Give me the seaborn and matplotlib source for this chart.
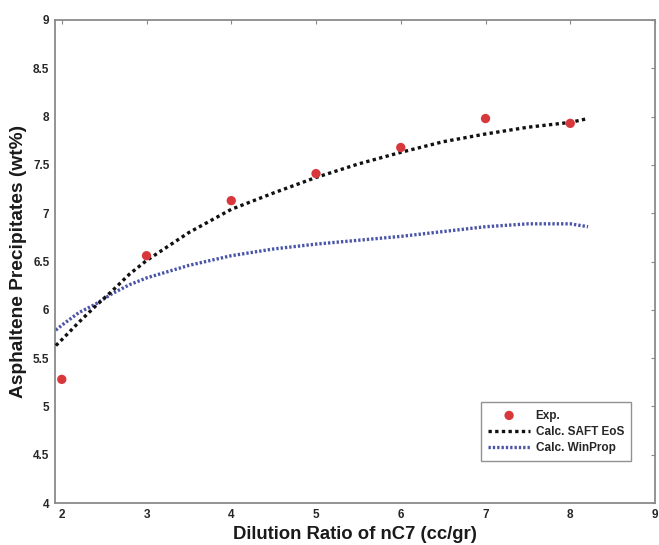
import matplotlib
matplotlib.use("Agg")
import matplotlib.pyplot as plt
import seaborn as sns
import pandas as pd

# Experimental data
exp_x = [2, 3, 4, 5, 6, 7, 8]
exp_y = [5.28, 6.56, 7.13, 7.41, 7.68, 7.98, 7.93]

# SAFT EoS curve
saft_x = [1.93, 2.0, 2.2, 2.4, 2.6, 2.8, 3.0, 3.5, 4.0, 4.5, 5.0, 5.5, 6.0, 6.5, 7.0, 7.5, 8.0, 8.21]
saft_y = [5.63, 5.69, 5.87, 6.04, 6.20, 6.37, 6.51, 6.80, 7.04, 7.21, 7.37, 7.51, 7.63, 7.74, 7.82, 7.89, 7.94, 7.98]

# WinProp curve
win_x = [1.93, 2.0, 2.2, 2.4, 2.6, 2.8, 3.0, 3.5, 4.0, 4.5, 5.0, 5.5, 6.0, 6.5, 7.0, 7.5, 8.0, 8.21]
win_y = [5.79, 5.84, 5.97, 6.06, 6.17, 6.26, 6.33, 6.46, 6.56, 6.63, 6.68, 6.72, 6.76, 6.81, 6.86, 6.89, 6.89, 6.86]

x_ticks = [2, 3, 4, 5, 6, 7, 8, 9]
y_ticks = [4, 4.5, 5, 5.5, 6, 6.5, 7, 7.5, 8, 8.5, 9]
y_tick_labels = ["4", "4.5", "5", "5.5", "6", "6.5", "7", "7.5", "8", "8.5", "9"]

sns.set_style("white")
plt.rcParams['font.family'] = ['Liberation Sans', 'DejaVu Sans']

fig = plt.figure(figsize=(6.59, 5.45), dpi=100)
ax = fig.add_axes([55/659, 1 - 503/545, 600/659, 483/545])

saft_df = pd.DataFrame({"x": saft_x, "y": saft_y})
win_df = pd.DataFrame({"x": win_x, "y": win_y})
exp_df = pd.DataFrame({"x": exp_x, "y": exp_y})

sns.lineplot(data=win_df, x="x", y="y", ax=ax, sort=False, color="#4a55a8",
             linewidth=2.4, linestyle=(0, (0.7, 0.6)), label="Calc. WinProp", zorder=2)
sns.lineplot(data=saft_df, x="x", y="y", ax=ax, sort=False, color="#111111",
             linewidth=2.4, linestyle=(0, (1.0, 1.0)), label="Calc. SAFT EoS", zorder=3)
sns.scatterplot(data=exp_df, x="x", y="y", ax=ax, color="#d8383c", s=45,
                edgecolor="none", label="Exp.", zorder=4)

ax.set_xlim(1.92, 9)
ax.set_ylim(4, 9)
ax.set_xticks(x_ticks)
ax.set_yticks(y_ticks)
ax.set_yticklabels(y_tick_labels)
ax.tick_params(direction="in", length=3, width=0.8, color="#888888",
               top=True, right=True, labelsize=8.5, pad=4)
for lab in ax.get_xticklabels() + ax.get_yticklabels():
    lab.set_fontweight("bold")
for sp in ax.spines.values():
    sp.set_color("#8a8a8a")
    sp.set_linewidth(1.3)

ax.set_xlabel("Dilution Ratio of nC7 (cc/gr)", fontsize=13.3, fontweight="bold",
              labelpad=4, color="#1a1a1a")
ax.set_ylabel("Asphaltene Precipitates (wt%)", fontsize=13.8, fontweight="bold",
              labelpad=4, color="#1a1a1a")

handles, labels = ax.get_legend_handles_labels()
order = [labels.index("Exp."), labels.index("Calc. SAFT EoS"), labels.index("Calc. WinProp")]
leg = ax.legend([handles[i] for i in order], [labels[i] for i in order],
                loc="lower right", bbox_to_anchor=(0.97, 0.075), frameon=True,
                fancybox=False, edgecolor="#777777", fontsize=8.5,
                prop={"weight": "bold", "size": 8.5}, handlelength=3.5,
                borderpad=0.6, labelspacing=0.35, handletextpad=0.5)
leg.get_frame().set_linewidth(1.0)

fig.savefig("out.png", dpi=100, facecolor="white")
